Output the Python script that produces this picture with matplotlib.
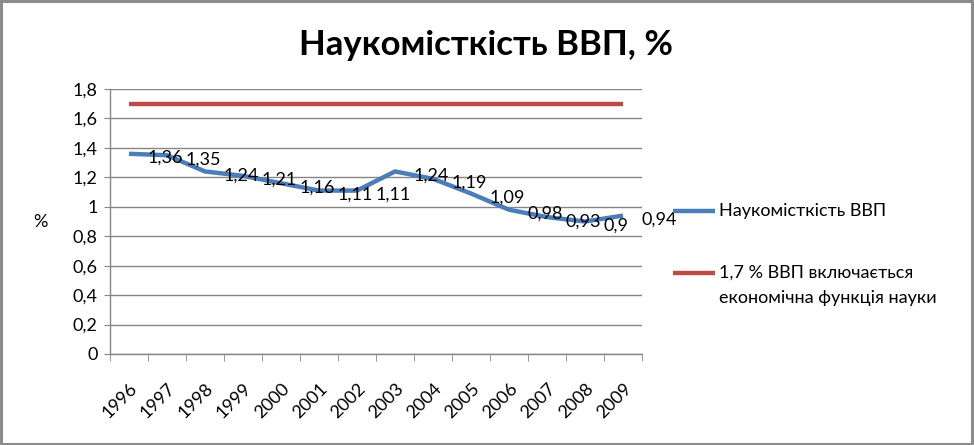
import matplotlib
matplotlib.use("Agg")
import matplotlib.pyplot as plt
from matplotlib.patches import Rectangle
from matplotlib.lines import Line2D

years = ["1996", "1997", "1998", "1999", "2000", "2001", "2002",
         "2003", "2004", "2005", "2006", "2007", "2008", "2009"]
intensity = [1.36, 1.35, 1.24, 1.21, 1.16, 1.11, 1.11,
             1.24, 1.19, 1.09, 0.98, 0.93, 0.90, 0.94]
threshold = [1.7] * len(years)
yticks = [0, 0.2, 0.4, 0.6, 0.8, 1.0, 1.2, 1.4, 1.6, 1.8]

title = "Наукомісткість ВВП, %"
series1_name = "Наукомісткість ВВП"
series2_name = "1,7 % ВВП включається\nекономічна функція науки"

plt.rcParams['font.family'] = ['Lato', 'DejaVu Sans']

def fmt(v):
    s = ("%g" % v)
    return s.replace('.', ',')

W, H = 974, 445
fig = plt.figure(figsize=(W / 100, H / 100), dpi=100)
fig.patches.append(Rectangle((0.001, 0.002), 0.997, 0.995, transform=fig.transFigure,
                             fill=False, edgecolor='#8c8c8c', linewidth=2.2))

ax = fig.add_axes([110/W, (H-354)/H, 532/W, (354-89)/H])
x = list(range(len(years)))
grid_c = '#868686'
blue = '#4A7EBB'
red = '#BE4B48'

ax.plot(x, threshold, color=red, lw=3.2, solid_capstyle='butt', zorder=3)
ax.plot(x, intensity, color=blue, lw=3.2, solid_capstyle='butt', zorder=3)

for xi, v in zip(x, intensity):
    ax.annotate(fmt(v), (xi, v), xytext=(13, -3), textcoords='offset points',
                ha='left', va='center', fontsize=13, color='black', zorder=4)

ax.set_xlim(-0.5, len(years) - 0.5)
ax.set_ylim(0, 1.8)
ax.set_yticks(yticks)
ax.set_yticklabels([fmt(t) for t in yticks], fontsize=13)
ax.yaxis.grid(True, color=grid_c, lw=1)
ax.set_axisbelow(True)
ax.tick_params(axis='y', length=4, color=grid_c, pad=5)

ax.set_xticks(x)
ax.set_xticklabels(years, rotation=45, ha='right', va='top', rotation_mode='anchor',
                   fontsize=13)
ax.tick_params(axis='x', which='major', length=0, pad=19)
ax.set_xticks([i - 0.5 for i in range(len(years) + 1)], minor=True)
ax.tick_params(axis='x', which='minor', length=5, color=grid_c)

for s in ['top', 'right']:
    ax.spines[s].set_visible(False)
for s in ['left', 'bottom']:
    ax.spines[s].set_color(grid_c)
    ax.spines[s].set_linewidth(1)

fig.text(40/W, 1 - 222/H, "%", fontsize=13, ha='center', va='center')
fig.text(486/W, 1 - 45/H, title, fontsize=25, fontweight='bold',
         ha='center', va='center')

# legend (drawn manually so the red key aligns with the first text line)
def legend_entry(color, y, lines):
    fig.add_artist(Line2D([673/W, 715/W], [1 - y/H, 1 - y/H], color=color, lw=3.2,
                          transform=fig.transFigure, solid_capstyle='butt'))
    for i, line in enumerate(lines):
        fig.text(719/W, 1 - (y + i * 25)/H, line, fontsize=13, ha='left', va='center')

legend_entry(blue, 211, series1_name.split("\n"))
legend_entry(red, 273, series2_name.split("\n"))

fig.savefig("out.png", dpi=100)
